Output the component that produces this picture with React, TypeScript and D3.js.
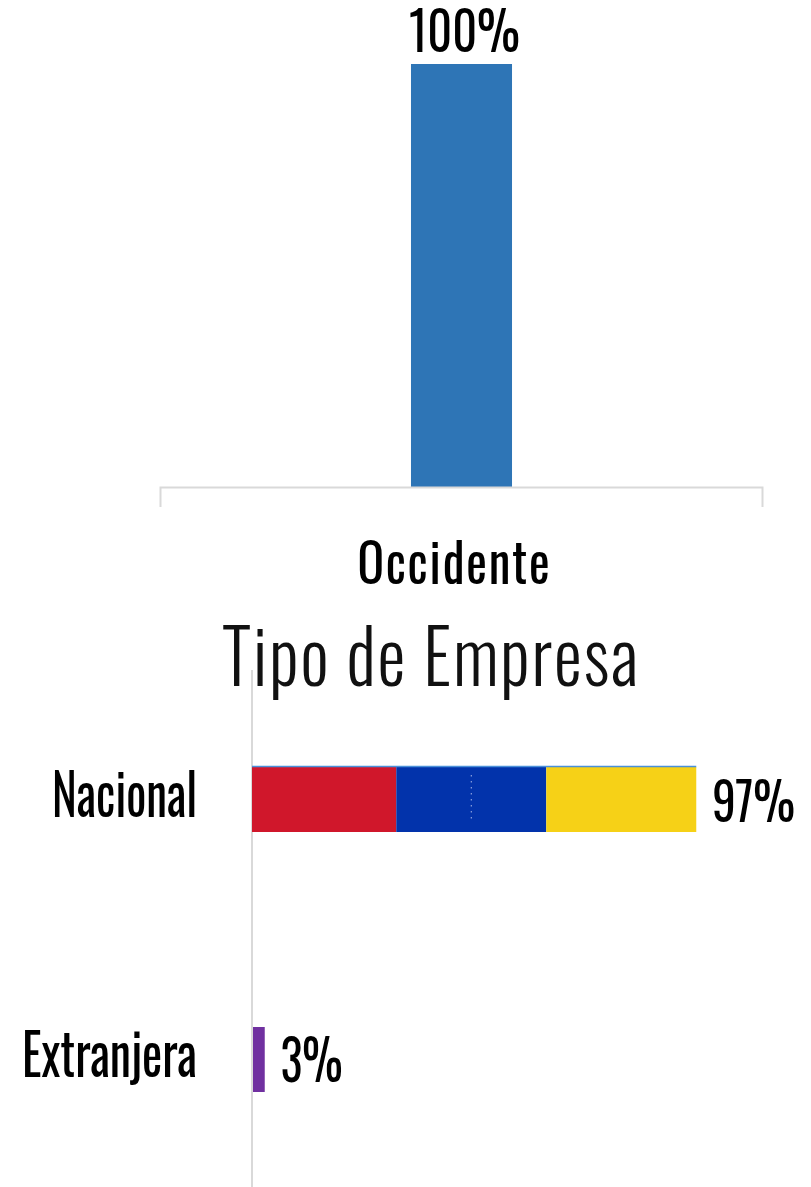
import React from "react";
import * as d3 from "d3";

const regions = ["Occidente"];
const regionValues = [1.0];
const regionLabels = ["100%"];

const companyTypes = ["Nacional", "Extranjera"];
const companyValues = [0.97, 0.03];
const companyLabels = ["97%", "3%"];
// Nacional bar is filled with three flag stripes (share of the whole axis)
const flagStripes = [0.315, 0.3275, 0.3275];
const flagColors = ["#d0172b", "#0233ab", "#f6d117"];

const W = 811;
const H = 1187;
const FONT = "Oswald, 'Liberation Sans Narrow', Roboto, 'DejaVu Sans', sans-serif";

export default function App() {
  // top chart
  const xTop = d3.scaleBand<string>().domain(regions).range([160, 763]).paddingInner(0.713).paddingOuter(0.713);
  const yTop = d3.scaleLinear().domain([0, 1]).range([487, 64]);

  // bottom chart
  const xB = d3.scaleLinear().domain([0, 1]).range([252, 710]);
  const yB = d3.scaleBand<string>().domain(companyTypes).range([669.5, 1189.5]).paddingInner(0.75).paddingOuter(0.375);

  let acc = 0;
  const stripes = flagStripes.map((v, i) => {
    const s = { x0: acc, x1: acc + v, color: flagColors[i] };
    acc += v;
    return s;
  });

  const labelWidthsTop = [111];
  const catWidths = [145, 175];
  const valWidths = [83, 62];

  return (
    <svg width={W} height={H} style={{ position: "absolute", left: 0, top: 0 }} fontFamily={FONT}>
      <rect width={W} height={H} fill="#ffffff" />
      {/* Top chart */}
      {regions.map((r, i) => (
        <g key={r}>
          <rect
            x={xTop(r)}
            y={yTop(regionValues[i])}
            width={xTop.bandwidth()}
            height={yTop(0) - yTop(regionValues[i])}
            fill="#2e75b6"
          />
          <text
            x={(xTop(r) as number) + xTop.bandwidth() / 2 + 3}
            y={yTop(regionValues[i]) - 12}
            textAnchor="middle"
            fontSize={54}
            fill="#000"
            textLength={labelWidthsTop[i]}
            lengthAdjust="spacingAndGlyphs"
          >
            {regionLabels[i]}
          </text>
          <text
            x={(xTop(r) as number) + xTop.bandwidth() / 2 - 7}
            y={584}
            textAnchor="middle"
            fontSize={55}
            fill="#000"
            textLength={194}
            lengthAdjust="spacingAndGlyphs"
            letterSpacing={2}
          >
            {r}
          </text>
        </g>
      ))}
      <path d={`M160.5,507V487.5H762.5V507`} fill="none" stroke="#d9d9d9" strokeWidth={2} />

      {/* Title */}
      <text
        x={431}
        y={686}
        textAnchor="middle"
        fontSize={74}
        fontWeight={300}
        fill="#111"
        textLength={418}
        lengthAdjust="spacingAndGlyphs"
        letterSpacing={2}
      >
        Tipo de Empresa
      </text>

      {/* Bottom chart axis */}
      <line x1={252} x2={252} y1={670} y2={H} stroke="#d9d9d9" strokeWidth={2} />

      {/* Nacional flag stripes */}
      {stripes.map((s, i) => (
        <rect
          key={i}
          x={xB(s.x0)}
          y={yB("Nacional")}
          width={xB(s.x1) - xB(s.x0)}
          height={yB.bandwidth()}
          fill={s.color}
        />
      ))}
      <line
        x1={xB(0)}
        x2={xB(companyValues[0])}
        y1={(yB("Nacional") as number) - 0.5}
        y2={(yB("Nacional") as number) - 0.5}
        stroke="#4a90d9"
        strokeWidth={1.5}
      />
      <line
        x1={(xB(stripes[1].x0) + xB(stripes[1].x1)) / 2}
        x2={(xB(stripes[1].x0) + xB(stripes[1].x1)) / 2}
        y1={(yB("Nacional") as number) + 8}
        y2={(yB("Nacional") as number) + yB.bandwidth() - 10}
        stroke="#a9b8e8"
        strokeWidth={1}
        strokeDasharray="1.5 4.5"
      />

      {/* Extranjera bar */}
      <rect
        x={xB(0) + 1}
        y={yB("Extranjera")}
        width={xB(companyValues[1]) - xB(0) - 2}
        height={yB.bandwidth()}
        fill="#7030a0"
      />

      {companyTypes.map((c, i) => {
        const cy = (yB(c) as number) + yB.bandwidth() / 2;
        const barEnd = i === 0 ? xB(acc) : xB(companyValues[i]) - 1;
        return (
          <g key={c}>
            <text
              x={197}
              y={cy + 17}
              textAnchor="end"
              fontSize={57}
              fill="#000"
              textLength={catWidths[i]}
              lengthAdjust="spacingAndGlyphs"
            >
              {c}
            </text>
            <text
              x={barEnd + 16}
              y={cy + 22}
              textAnchor="start"
              fontSize={i === 0 ? 52 : 56}
              fill="#000"
              textLength={valWidths[i]}
              lengthAdjust="spacingAndGlyphs"
            >
              {companyLabels[i]}
            </text>
          </g>
        );
      })}
    </svg>
  );
}
